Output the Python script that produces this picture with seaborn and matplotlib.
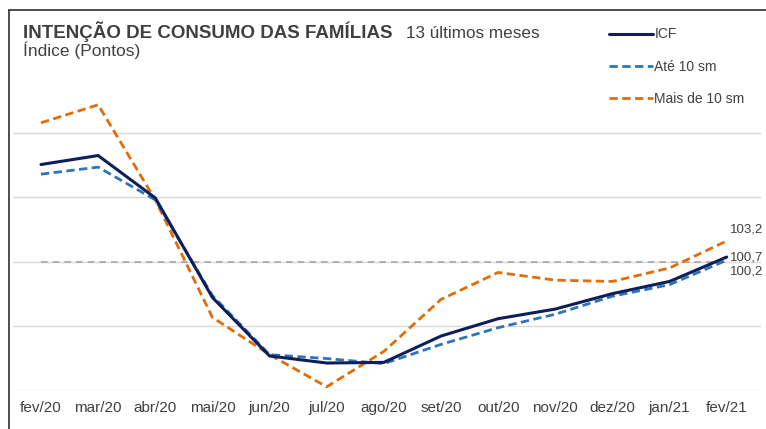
import numpy as np
import pandas as pd
import matplotlib.pyplot as plt
import seaborn as sns
from matplotlib.lines import Line2D

sns.set_style('white')
plt.rcParams['font.family'] = ['Liberation Sans', 'DejaVu Sans']

# dados
meses = ['fev/20', 'mar/20', 'abr/20', 'mai/20', 'jun/20', 'jul/20', 'ago/20',
         'set/20', 'out/20', 'nov/20', 'dez/20', 'jan/21', 'fev/21']
icf = [115.1, 116.5, 109.9, 94.4, 85.3, 84.2, 84.3, 88.4, 91.1, 92.6, 95.0, 96.9, 100.7]
ate_10 = [113.6, 114.7, 109.6, 94.7, 85.5, 84.9, 84.1, 87.1, 89.7, 91.8, 94.6, 96.4, 100.2]
mais_10 = [121.6, 124.4, 109.6, 91.3, 85.5, 80.5, 86.0, 94.1, 98.3, 97.1, 96.9, 99.0, 103.2]
referencia = [100] * len(meses)

df = pd.DataFrame({'mes': meses, 'ICF': icf, 'Até 10 sm': ate_10,
                   'Mais de 10 sm': mais_10, 'ref': referencia})

cinza = '#404040'
fig = plt.figure(figsize=(7.66, 4.29), dpi=100)
ax = fig.add_axes([13 / 766, 39 / 429, 748 / 766, 370 / 429])

sns.lineplot(data=df, x='mes', y='ref', ax=ax, color='#a6a6a6', lw=1.2,
             linestyle=(0, (4, 3)))
sns.lineplot(data=df, x='mes', y='Mais de 10 sm', ax=ax, color='#e26b0a', lw=2,
             linestyle=(0, (3, 1.6)), label='Mais de 10 sm')
sns.lineplot(data=df, x='mes', y='Até 10 sm', ax=ax, color='#2e75b6', lw=2,
             linestyle=(0, (3, 1.6)), label='Até 10 sm')
sns.lineplot(data=df, x='mes', y='ICF', ax=ax, color='#0c1f5c', lw=2.2,
             label='ICF')

ax.set_xlim(-0.49, 12.6)
ax.set_ylim(80, 137.6)
ax.set_yticks([80, 90, 100, 110, 120])
ax.set_yticklabels([])
ax.yaxis.grid(True, color='#d9d9d9', lw=1)
ax.set_axisbelow(True)
for s in ax.spines.values():
    s.set_visible(False)
ax.tick_params(axis='x', length=0, pad=8, labelsize=11, labelcolor=cinza)
ax.tick_params(axis='y', length=0)
ax.set_xlabel('')
ax.set_ylabel('')

# rótulos do último mês
ultimo = len(meses) - 1
ax.annotate(f'{mais_10[-1]:.1f}'.replace('.', ','), (ultimo, mais_10[-1]),
            xytext=(2, 8), textcoords='offset points', va='center',
            fontsize=9.5, color=cinza, annotation_clip=False)
ax.annotate(f'{icf[-1]:.1f}'.replace('.', ','), (ultimo, icf[-1]),
            xytext=(2, 0), textcoords='offset points', va='center',
            fontsize=9.5, color=cinza, annotation_clip=False)
ax.annotate(f'{ate_10[-1]:.1f}'.replace('.', ','), (ultimo, ate_10[-1]),
            xytext=(2, -8), textcoords='offset points', va='center',
            fontsize=9.5, color=cinza, annotation_clip=False)

h, l = ax.get_legend_handles_labels()
ordem = [l.index('ICF'), l.index('Até 10 sm'), l.index('Mais de 10 sm')]
ax.legend([h[i] for i in ordem], [l[i] for i in ordem], frameon=False,
          loc='upper left', bbox_to_anchor=(596 / 766, 1 - 15 / 429),
          bbox_transform=fig.transFigure, fontsize=10, handlelength=3.2,
          handletextpad=0.1, labelspacing=1.3, labelcolor=cinza)

# títulos
fig.text(23 / 766, 1 - 38 / 429, 'INTENÇÃO DE CONSUMO DAS FAMÍLIAS',
         fontsize=13.5, fontweight='bold', color=cinza, va='baseline')
fig.text(406 / 766, 1 - 38 / 429, '13 últimos meses', fontsize=12.3,
         color=cinza, va='baseline')
fig.text(23 / 766, 1 - 56 / 429, 'Índice (Pontos)', fontsize=12.5,
         color=cinza, va='baseline')

# moldura
fig.add_artist(Line2D([9 / 766, 1], [1 - 10 / 429] * 2, color='#303030', lw=1.2))
fig.add_artist(Line2D([9 / 766] * 2, [0, 1 - 10 / 429], color='#303030', lw=1.2))

fig.savefig('out.png', dpi=100)
